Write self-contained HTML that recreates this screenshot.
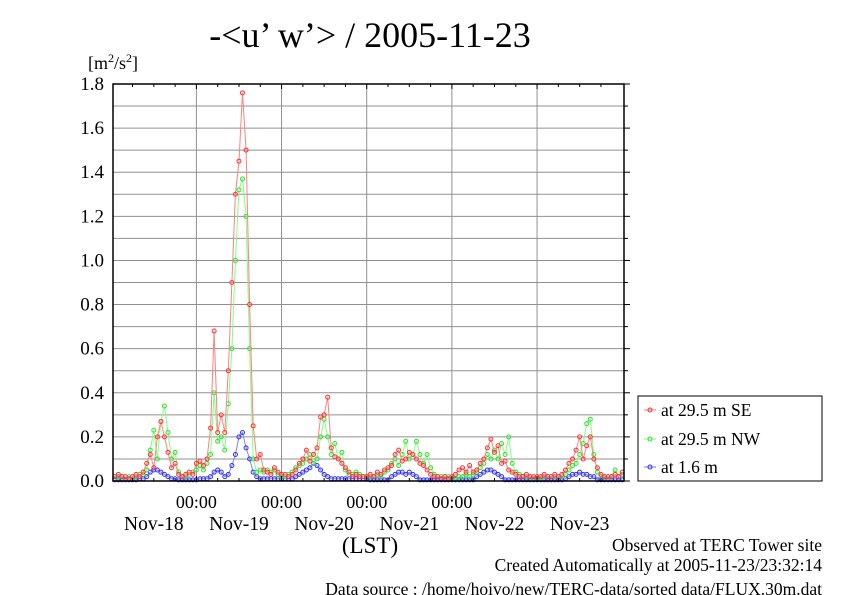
<!DOCTYPE html>
<html><head><meta charset="utf-8"><style>
body{margin:0;background:#fff;width:842px;height:595px;overflow:hidden}
svg{display:block;font-family:"Liberation Serif",serif}
</style></head><body>
<svg id="c" width="842" height="595">
<text x="370" y="47" font-size="36" text-anchor="middle">-&lt;u’ w’&gt; / 2005-11-23</text>
<text x="88" y="69" font-size="18">[m<tspan font-size="12" dy="-7">2</tspan><tspan dy="7">/s</tspan><tspan font-size="12" dy="-7">2</tspan><tspan dy="7">]</tspan></text>
<text x="370" y="553" font-size="23" text-anchor="middle">(LST)</text>
<text x="822" y="551" font-size="17.5" text-anchor="end">Observed at TERC Tower site</text>
<text x="822" y="571" font-size="17.5" text-anchor="end">Created Automatically at 2005-11-23/23:32:14</text>
<text x="822" y="595" font-size="17.5" text-anchor="end">Data source : /home/hoivo/new/TERC-data/sorted  data/FLUX.30m.dat</text>
<g id="grid"></g><g id="series"></g><g id="axes"></g>
<g>
<rect x="638" y="396" width="184" height="85" fill="#fff" stroke="#000" stroke-width="1"/>
<g><line x1="644" x2="656" y1="410" y2="410" stroke="#ff7070"/><circle cx="650" cy="410" r="2" fill="none" stroke="#ff3030"/><text x="661" y="416" font-size="17.5">at 29.5 m SE</text></g>
<g><line x1="644" x2="656" y1="439" y2="439" stroke="#70ff70"/><circle cx="650" cy="439" r="2" fill="none" stroke="#30e030"/><text x="661" y="445" font-size="17.5">at 29.5 m NW</text></g>
<g><line x1="644" x2="656" y1="467" y2="467" stroke="#7070ff"/><circle cx="650" cy="467" r="2" fill="none" stroke="#3030ff"/><text x="661" y="473" font-size="17.5">at 1.6 m</text></g>
</g>
</svg>
<script>
const yTicks=[0,0.2,0.4,0.6,0.8,1.0,1.2,1.4,1.6,1.8];
const dayLabels=["Nov-18","Nov-19","Nov-20","Nov-21","Nov-22","Nov-23"];
const se=[0.02,0.03,0.02,0.02,0.01,0.02,0.03,0.02,0.04,0.08,0.12,0.06,0.2,0.27,0.2,0.13,0.06,0.08,0.03,0.02,0.03,0.04,0.03,0.08,
0.09,0.07,0.1,0.24,0.68,0.22,0.3,0.22,0.5,0.9,1.3,1.45,1.76,1.5,0.8,0.25,0.1,0.12,0.05,0.04,0.03,0.06,0.04,0.03,
0.03,0.02,0.03,0.05,0.08,0.1,0.14,0.09,0.12,0.15,0.29,0.3,0.38,0.15,0.11,0.1,0.08,0.06,0.04,0.02,0.03,0.02,0.02,0.02,
0.03,0.02,0.04,0.03,0.05,0.06,0.07,0.12,0.14,0.09,0.1,0.13,0.12,0.1,0.08,0.07,0.05,0.03,0.02,0.02,0.01,0.02,0.01,0.02,
0.03,0.05,0.06,0.04,0.07,0.04,0.05,0.08,0.1,0.15,0.19,0.13,0.16,0.08,0.09,0.05,0.04,0.03,0.02,0.02,0.03,0.02,0.02,0.02,
0.02,0.03,0.02,0.02,0.03,0.02,0.03,0.05,0.08,0.1,0.14,0.2,0.1,0.16,0.2,0.1,0.06,0.03,0.02,0.02,0.02,0.03,0.02,0.04];
const nw=[0.01,0.02,0.02,0.01,0.02,0.01,0.02,0.03,0.03,0.05,0.14,0.23,0.1,0.27,0.34,0.22,0.1,0.13,0.04,0.02,0.02,0.03,0.04,0.05,
0.07,0.05,0.08,0.12,0.4,0.18,0.2,0.14,0.35,0.6,1.0,1.32,1.37,1.2,0.6,0.1,0.04,0.05,0.04,0.05,0.04,0.05,0.03,0.02,
0.02,0.03,0.04,0.06,0.07,0.08,0.1,0.12,0.08,0.1,0.2,0.28,0.2,0.12,0.17,0.1,0.13,0.05,0.03,0.03,0.04,0.03,0.02,0.02,
0.02,0.02,0.03,0.02,0.04,0.05,0.08,0.1,0.07,0.12,0.18,0.1,0.12,0.18,0.12,0.08,0.12,0.06,0.03,0.02,0.02,0.02,0.02,0.01,
0.01,0.02,0.02,0.03,0.02,0.03,0.04,0.06,0.08,0.12,0.1,0.14,0.1,0.17,0.12,0.2,0.08,0.04,0.03,0.02,0.02,0.02,0.01,0.02,
0.01,0.02,0.02,0.02,0.02,0.02,0.02,0.03,0.05,0.07,0.08,0.12,0.17,0.26,0.28,0.12,0.04,0.02,0.02,0.01,0.02,0.05,0.02,0.03];
const low=[0.005,0.005,0.005,0.005,0.005,0.005,0.005,0.01,0.01,0.02,0.04,0.05,0.05,0.04,0.03,0.02,0.01,0.01,0.005,0.005,0.005,0.005,0.005,0.005,
0.01,0.01,0.01,0.02,0.04,0.05,0.04,0.02,0.03,0.07,0.12,0.2,0.22,0.15,0.1,0.04,0.02,0.01,0.01,0.01,0.01,0.01,0.01,0.01,
0.01,0.01,0.01,0.02,0.03,0.04,0.05,0.06,0.08,0.07,0.05,0.03,0.02,0.01,0.01,0.01,0.01,0.01,0.01,0.01,0.01,0.01,0.01,0.01,
0.005,0.005,0.005,0.005,0.005,0.005,0.02,0.03,0.04,0.04,0.03,0.04,0.03,0.02,0.005,0.005,0.005,0.005,0.005,0.005,0.005,0.005,0.005,0.005,
0.005,0.005,0.005,0.005,0.005,0.005,0.02,0.03,0.04,0.05,0.05,0.04,0.03,0.02,0.005,0.005,0.005,0.005,0.005,0.005,0.005,0.005,0.005,0.005,
0.005,0.005,0.005,0.005,0.005,0.005,0.005,0.01,0.02,0.03,0.03,0.04,0.03,0.03,0.02,0.02,0.005,0.005,0.005,0.005,0.005,0.005,0.005,0.005];
const NS="http://www.w3.org/2000/svg";
const L=113,R=624,T=84,B=481,YMAX=1.8,H0=0.5,H1=144.5;
const xs=h=>L+(h-H0)*(R-L)/(H1-H0);
const ys=v=>B-v*(B-T)/YMAX;
function mk(tag,at,parent){const e=document.createElementNS(NS,tag);for(const k in at)e.setAttribute(k,at[k]);parent.appendChild(e);return e;}
const grid=document.getElementById('grid'),axes=document.getElementById('axes'),ser=document.getElementById('series');
for(let k=1;k<18;k++){const y=ys(k*0.1);const g=mk('line',{x1:L,x2:R,y1:y,y2:y,stroke:'#909090','stroke-width':1},grid);

}
for(let d=1;d<6;d++){const x=xs(d*24);const g=mk('line',{x1:x,x2:x,y1:T,y2:B,stroke:'#909090','stroke-width':1},grid);


const t=mk('text',{x:x,y:508,'font-size':18,'text-anchor':'middle'},axes);t.textContent='00:00';

}
dayLabels.forEach((s,i)=>{const t=mk('text',{x:xs(i*24+12),y:530,'font-size':19.5,'text-anchor':'middle'},axes);t.textContent=s;

});
for(let h=6;h<144;h+=6){const x=xs(h);const big=h%24==0;mk('line',{x1:x,x2:x,y1:T,y2:T+(big?5:3),stroke:'#000'},axes);mk('line',{x1:x,x2:x,y1:B,y2:B-(big?5:3),stroke:'#000'},axes);}
yTicks.forEach(v=>{const t=mk('text',{x:104,y:ys(v)+6,'font-size':19,'text-anchor':'end'},axes);t.textContent=v.toFixed(1);


mk('line',{x1:R,x2:R+6,y1:ys(v),y2:ys(v),stroke:'#000'},axes);});
for(let k=1;k<18;k+=2){mk('line',{x1:R,x2:R+4,y1:ys(k*0.1),y2:ys(k*0.1),stroke:'#000'},axes);}
const fr=mk('rect',{x:L,y:T,width:R-L,height:B-T,fill:'none',stroke:'#000','stroke-width':1.5},axes);


function draw(arr,line,mark,name){const g=mk('g',{},ser);


const pts=arr.map((v,i)=>xs(i+1).toFixed(1)+','+ys(v).toFixed(1)).join(' ');
mk('polyline',{points:pts,fill:'none',stroke:line,'stroke-width':1},g);
arr.forEach((v,i)=>{const c=mk('circle',{cx:xs(i+1),cy:ys(v),r:2,fill:'none',stroke:mark,'stroke-width':1},g);

});}
draw(low,'#8080ff','#3030ff','series-1-6m');
draw(nw,'#80ff80','#30e030','series-29-5m-nw');
draw(se,'#ff8080','#ff3030','series-29-5m-se');
</script>
</body></html>
